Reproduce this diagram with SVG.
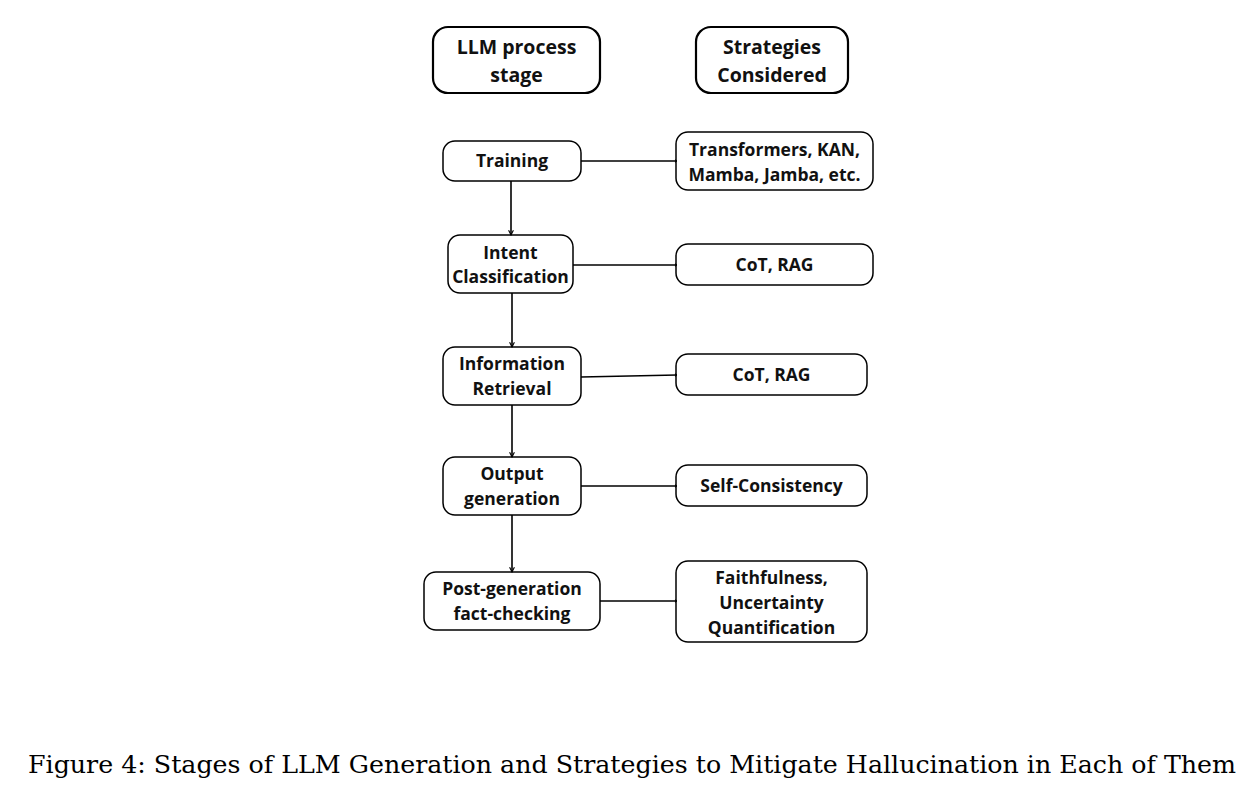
<svg xmlns="http://www.w3.org/2000/svg" width="1256" height="792" viewBox="0 0 1256 792">
<defs>
<style>
.box{fill:#fff;stroke:#000;stroke-width:1.5}
.hbox{fill:#fff;stroke:#000;stroke-width:2.2}
.t{font-family:"Open Sans",sans-serif;font-weight:700;font-size:17.5px;fill:#111;text-anchor:middle}
.h{font-family:"Open Sans",sans-serif;font-weight:700;font-size:19.5px;fill:#111;text-anchor:middle}
.c{stroke:#000;stroke-width:1.6;fill:none}
.cap{font-family:"DejaVu Serif",serif;font-size:25px;fill:#000}
</style>
<marker id="av" viewBox="0 0 10 10" refX="9" refY="5" markerWidth="6" markerHeight="6" orient="auto" markerUnits="userSpaceOnUse">
<path d="M1,1 L9,5 L1,9" fill="none" stroke="#000" stroke-width="1.8"/>
</marker>
<marker id="ah" viewBox="0 0 10 10" refX="9" refY="5" markerWidth="4" markerHeight="6" orient="auto" markerUnits="userSpaceOnUse">
<path d="M5,1 L9,5 L5,9 Z" fill="#000" stroke="#000" stroke-width="1"/>
</marker>
</defs>
<rect width="1256" height="792" fill="#fff"/>
<g id="header-stage">
<rect class="hbox" x="433" y="27" width="167" height="66" rx="15"/>
<text class="h" x="516.5" y="54">LLM process</text>
<text class="h" x="516.5" y="82">stage</text>
</g>
<g id="header-strategies">
<rect class="hbox" x="696" y="27" width="152" height="66" rx="15"/>
<text class="h" x="772" y="54">Strategies</text>
<text class="h" x="772" y="82">Considered</text>
</g>
<g id="training">
<rect class="box" x="443" y="141" width="138" height="40" rx="12"/>
<text class="t" x="512" y="167">Training</text>
</g>
<g id="s-training">
<rect class="box" x="676" y="132" width="197" height="58" rx="12"/>
<text class="t" x="774.5" y="156">Transformers, KAN,</text>
<text class="t" x="774.5" y="181">Mamba, Jamba, etc.</text>
</g>
<g id="intent">
<rect class="box" x="448" y="235" width="125" height="58" rx="12"/>
<text class="t" x="510.5" y="259">Intent</text>
<text class="t" x="510.5" y="283">Classification</text>
</g>
<g id="s-intent">
<rect class="box" x="676" y="244" width="197" height="41" rx="12"/>
<text class="t" x="774.5" y="271">CoT, RAG</text>
</g>
<g id="retrieval">
<rect class="box" x="443" y="347" width="138" height="58" rx="12"/>
<text class="t" x="512" y="370">Information</text>
<text class="t" x="512" y="395">Retrieval</text>
</g>
<g id="s-retrieval">
<rect class="box" x="676" y="354" width="191" height="41" rx="12"/>
<text class="t" x="771.5" y="381">CoT, RAG</text>
</g>
<g id="output">
<rect class="box" x="443" y="457" width="138" height="58" rx="12"/>
<text class="t" x="512" y="480">Output</text>
<text class="t" x="512" y="505">generation</text>
</g>
<g id="s-output">
<rect class="box" x="676" y="465" width="191" height="41" rx="12"/>
<text class="t" x="771.5" y="492">Self-Consistency</text>
</g>
<g id="post">
<rect class="box" x="424" y="572" width="176" height="58" rx="12"/>
<text class="t" x="512" y="595">Post-generation</text>
<text class="t" x="512" y="620">fact-checking</text>
</g>
<g id="s-post">
<rect class="box" x="676" y="561" width="191" height="81" rx="12"/>
<text class="t" x="771.5" y="584">Faithfulness,</text>
<text class="t" x="771.5" y="609">Uncertainty</text>
<text class="t" x="771.5" y="634">Quantification</text>
</g>
<g id="connectors">
<line class="c" x1="511" y1="181" x2="511" y2="235" marker-end="url(#av)"/>
<line class="c" x1="512" y1="293" x2="512" y2="347" marker-end="url(#av)"/>
<line class="c" x1="512" y1="405" x2="512" y2="457" marker-end="url(#av)"/>
<line class="c" x1="512" y1="515" x2="512" y2="572" marker-end="url(#av)"/>
<line class="c" x1="581" y1="161" x2="677" y2="161" marker-end="url(#ah)"/>
<line class="c" x1="573" y1="265" x2="677" y2="265" marker-end="url(#ah)"/>
<line class="c" x1="581" y1="377" x2="677" y2="375" marker-end="url(#ah)"/>
<line class="c" x1="581" y1="486" x2="677" y2="486" marker-end="url(#ah)"/>
<line class="c" x1="600" y1="601" x2="677" y2="601" marker-end="url(#ah)"/>
</g>
<text class="cap" x="28" y="773" textLength="1208" lengthAdjust="spacingAndGlyphs">Figure 4: Stages of LLM Generation and Strategies to Mitigate Hallucination in Each of Them</text>
</svg>
